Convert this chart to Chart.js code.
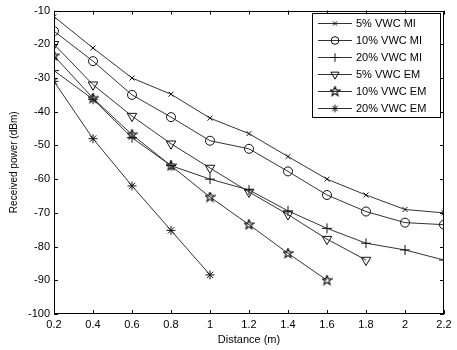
<!DOCTYPE html>
<html>
<head>
<meta charset="UTF-8">
<title>Received power vs distance</title>
<script src="https://cdn.jsdelivr.net/npm/chart.js"></script>
<style>
    html, body { margin: 0; padding: 0; background: #fff; }
    #wrap { width: 457px; height: 350px; position: relative; }
</style>
</head>
<body>
<div id="wrap"><canvas id="chart"></canvas></div>
<script>
// data
const distances = [0.2, 0.4, 0.6, 0.8, 1.0, 1.2, 1.4, 1.6, 1.8, 2.0, 2.2];
const seriesNames = ['5% VWC MI', '10% VWC MI', '20% VWC MI', '5% VWC EM', '10% VWC EM', '20% VWC EM'];
const mi5  = [-11.8, -21.1, -30, -34.8, -41.9, -46.5, -53.3, -60, -64.7, -69, -70];
const mi10 = [-16.1, -25, -35, -41.6, -48.6, -51, -57.7, -64.7, -69.6, -72.9, -73.5];
const mi20 = [-27.8, -36.3, -47.7, -56, -60, -63.2, -69.4, -74.6, -79, -81, -84];
const em5  = [-20, -32, -41.3, -49.5, -56.7, -63.8, -70.5, -77.8, -84];
const em10 = [-23.4, -36, -46.8, -56, -65.3, -73.5, -82, -90];
const em20 = [-31, -48, -62, -75.2, -88.4];
const yTicks = [-100, -90, -80, -70, -60, -50, -40, -30, -20, -10];

// pentagram marker (no built-in one)
function makePentagram(size) {
    const c = document.createElement('canvas');
    c.width = size; c.height = size;
    const g = c.getContext('2d');
    const cx = size / 2, cy = size / 2, ro = size / 2 - 0.5, ri = ro * 0.42;
    g.beginPath();
    for (let i = 0; i < 10; i++) {
        const r = i % 2 === 0 ? ro : ri;
        const a = -Math.PI / 2 + i * Math.PI / 5;
        const px = cx + r * Math.cos(a), py = cy + r * Math.sin(a);
        if (i === 0) g.moveTo(px, py); else g.lineTo(px, py);
    }
    g.closePath();
    g.strokeStyle = '#111';
    g.lineWidth = 1.2;
    g.stroke();
    return c;
}
const pentagram = makePentagram(11);

const markers = [
    { pointStyle: 'crossRot', radius: 3.5, rotation: 0 },
    { pointStyle: 'circle', radius: 4.5, rotation: 0 },
    { pointStyle: 'cross', radius: 5, rotation: 0 },
    { pointStyle: 'triangle', radius: 5.5, rotation: 180 },
    { pointStyle: pentagram, radius: 5.5, rotation: 0 },
    { pointStyle: 'star', radius: 4.5, rotation: 0 }
];
const values = [mi5, mi10, mi20, em5, em10, em20];
const lineColor = '#333';
const fontFamily = '"Liberation Sans", Arial, sans-serif';

const datasets = values.map((vals, i) => ({
    label: seriesNames[i],
    data: vals.map((v, j) => ({ x: distances[j], y: v })),
    borderColor: lineColor,
    borderWidth: 1,
    backgroundColor: 'rgba(0,0,0,0)',
    pointBorderColor: '#111',
    pointBackgroundColor: 'rgba(0,0,0,0)',
    pointBorderWidth: 1,
    pointStyle: markers[i].pointStyle,
    pointRadius: markers[i].radius,
    pointRotation: markers[i].rotation,
    tension: 0
}));

const fmt = v => String(Number(v.toFixed(1)));

// inward tick marks on all four sides, plus the legend box
const matlabFrame = {
    id: 'matlabFrame',
    afterDraw(chart) {
        const ctx = chart.ctx;
        const a = chart.chartArea;
        const xs = chart.scales.x, ys = chart.scales.y;
        ctx.save();
        ctx.strokeStyle = '#000';
        ctx.lineWidth = 1;
        ctx.strokeRect(Math.round(a.left) + 0.5, Math.round(a.top) + 0.5,
            Math.round(a.right - a.left) - 1, Math.round(a.bottom - a.top) - 1);
        ctx.beginPath();
        distances.forEach(d => {
            const px = Math.round(xs.getPixelForValue(d)) + 0.5;
            ctx.moveTo(px, a.bottom); ctx.lineTo(px, a.bottom - 4);
            ctx.moveTo(px, a.top); ctx.lineTo(px, a.top + 4);
        });
        yTicks.forEach(t => {
            const py = Math.round(ys.getPixelForValue(t)) + 0.5;
            ctx.moveTo(a.left, py); ctx.lineTo(a.left + 4, py);
            ctx.moveTo(a.right, py); ctx.lineTo(a.right - 4, py);
        });
        ctx.stroke();

        // legend
        const lx = 312, ly = 13, lw = 128, lh = 104;
        ctx.fillStyle = '#fff';
        ctx.fillRect(lx, ly, lw, lh);
        ctx.strokeRect(lx + 0.5, ly + 0.5, lw, lh);
        ctx.font = '11px ' + fontFamily;
        ctx.textBaseline = 'middle';
        ctx.textAlign = 'left';
        seriesNames.forEach((name, i) => {
            const yy = ly + 10 + i * 17;
            ctx.strokeStyle = lineColor;
            ctx.beginPath();
            ctx.moveTo(lx + 6, yy + 0.5); ctx.lineTo(lx + 40, yy + 0.5);
            ctx.stroke();
            ctx.strokeStyle = '#111';
            ctx.fillStyle = 'rgba(0,0,0,0)';
            Chart.helpers.drawPoint(ctx, {
                pointStyle: markers[i].pointStyle,
                radius: markers[i].radius * 0.85,
                rotation: markers[i].rotation,
                borderWidth: 1
            }, lx + 23, yy + 0.5);
            ctx.fillStyle = '#000';
            ctx.fillText(name, lx + 44, yy + 1);
        });
        ctx.restore();
    }
};

new Chart(document.getElementById('chart'), {
    type: 'line',
    data: { datasets },
    options: {
        responsive: true,
        maintainAspectRatio: false,
        animation: false,
        layout: { padding: { top: 6, right: 13, left: 0, bottom: 0 } },
        plugins: {
            legend: { display: false },
            tooltip: { enabled: false }
        },
        scales: {
            x: {
                type: 'linear',
                min: 0.2,
                max: 2.2,
                grid: { display: false, drawTicks: false },
                border: { display: false },
                afterBuildTicks: s => { s.ticks = distances.map(v => ({ value: v })); },
                afterFit: s => { s.height = 36; },
                ticks: {
                    color: '#000',
                    padding: 4,
                    maxRotation: 0,
                    autoSkip: false,
                    font: { family: fontFamily, size: 11 },
                    callback: v => fmt(v)
                },
                title: {
                    display: true,
                    text: 'Distance (m)',
                    color: '#000',
                    padding: { top: 0, bottom: 3 },
                    font: { family: fontFamily, size: 11 }
                }
            },
            y: {
                type: 'linear',
                min: -100,
                max: -10,
                grid: { display: false, drawTicks: false },
                border: { display: false },
                afterBuildTicks: s => { s.ticks = yTicks.map(v => ({ value: v })); },
                afterFit: s => { s.width = 54; },
                ticks: {
                    color: '#000',
                    padding: 4,
                    autoSkip: false,
                    font: { family: fontFamily, size: 11 },
                    callback: v => String(v)
                },
                title: {
                    display: true,
                    text: 'Received power (dBm)',
                    color: '#000',
                    padding: { top: 8, bottom: 2 },
                    font: { family: fontFamily, size: 10 }
                }
            }
        }
    },
    plugins: [matlabFrame]
});
</script>
</body>
</html>
